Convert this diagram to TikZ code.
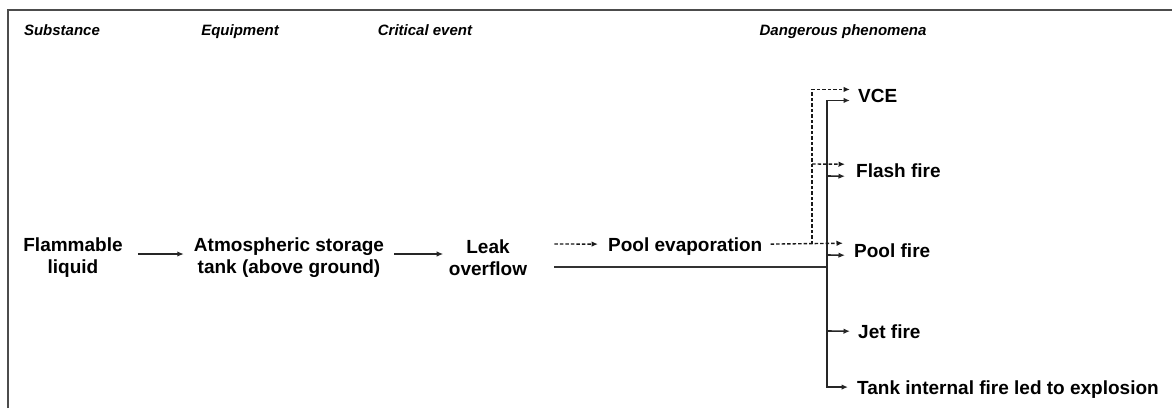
\documentclass[tikz,border=0pt]{standalone}
\usepackage{fontspec}
\setmainfont{Liberation Sans}
\usetikzlibrary{arrows.meta}
\begin{document}
\begin{tikzpicture}[x=1pt,y=-1pt,
 hdr/.style={font=\fontsize{15}{18}\selectfont\bfseries\itshape, inner sep=0pt, anchor=base},
 txt/.style={font=\fontsize{19}{22}\selectfont\bfseries, inner sep=0pt, align=center},
 lbl/.style={font=\fontsize{19}{22}\selectfont\bfseries, inner sep=0pt, anchor=base west},
 arr/.style={line width=1.6pt, draw=black!85, -{Latex[length=6.5pt,width=5.5pt]}},
 solidln/.style={line width=1.8pt, draw=black!80},
 dsh/.style={line width=1.4pt, draw=black!90, dash pattern=on 3.5pt off 2pt},
 darr/.style={dsh, -{Latex[length=6.5pt,width=5.5pt]}},
 frame/.style={line width=1.8pt, draw=black!70}
]
\useasboundingbox (0,0) rectangle (1172,408);
% frame
\coordinate (fb) at (8,408);
\coordinate (fc) at (8,10);
\coordinate (fr) at (1172,10);
\draw[frame] (fb) -- (fc) -- (fr);

% headers
\node[hdr] (h1) at (62,35) {Substance};
\node[hdr] (h2) at (240,35) {Equipment};
\node[hdr] (h3) at (425,35) {Critical event};
\node[hdr] (h4) at (843,35) {Dangerous phenomena};

% main chain
\node[txt] (fl) at (73,258) {Flammable\\liquid};
\node[txt] (atm) at (289,258) {Atmospheric storage\\tank (above ground)};
\node[txt] (leak) at (488,258) {Leak\\overflow};
\node[lbl] (pe) at (608,251) {Pool evaporation};

% phenomena
\node[lbl] (vce) at (858,102) {VCE};
\node[lbl] (ff) at (856,177) {Flash fire};
\node[lbl] (pf) at (854,257) {Pool fire};
\node[lbl] (jf) at (858,338) {Jet fire};
\node[lbl] (ti) at (857,394) {Tank internal fire led to explosion};

% bus junctions
\coordinate (sJ) at (827,267);
\coordinate (sF) at (827,176);
\coordinate (sP) at (827,255);
\coordinate (sJet) at (827,331);
\coordinate (dJ) at (812,244);
\coordinate (dF) at (812,164);

% main arrows
\draw[arr] ([xshift=15pt,yshift=4pt]fl.east) -- ([xshift=-10pt,yshift=4pt]atm.west);
\draw[arr] ([xshift=10pt,yshift=4pt]atm.east) -- ([xshift=-5.5pt,yshift=4pt]leak.west);
\draw[darr] ([xshift=27pt,yshift=14pt]leak.east) -- ([xshift=-10pt,yshift=2pt]pe.west);

% solid bus
\draw[solidln] ([xshift=27pt,yshift=-9pt]leak.east) -- (sJ);
\draw[arr] (sJ) |- ([xshift=-8pt,yshift=-5pt]vce.west);
\draw[arr] (sJ) |- ([xshift=-9pt,yshift=2pt]ti.west);
\draw[arr] (sF) -- ([xshift=-11pt,yshift=-6pt]ff.west);
\draw[arr] (sP) -- ([xshift=-9pt,yshift=-5pt]pf.west);
\draw[arr] (sJet) -- ([xshift=-8pt,yshift=0pt]jf.west);

% dashed bus
\draw[darr] ([xshift=8pt,yshift=2pt]pe.east) -- ([xshift=-11pt,yshift=7pt]pf.west);
\draw[darr] (dJ) |- ([xshift=-8pt,yshift=6pt]vce.west);
\draw[darr] (dF) -- ([xshift=-11pt,yshift=6pt]ff.west);
\end{tikzpicture}
\end{document}
